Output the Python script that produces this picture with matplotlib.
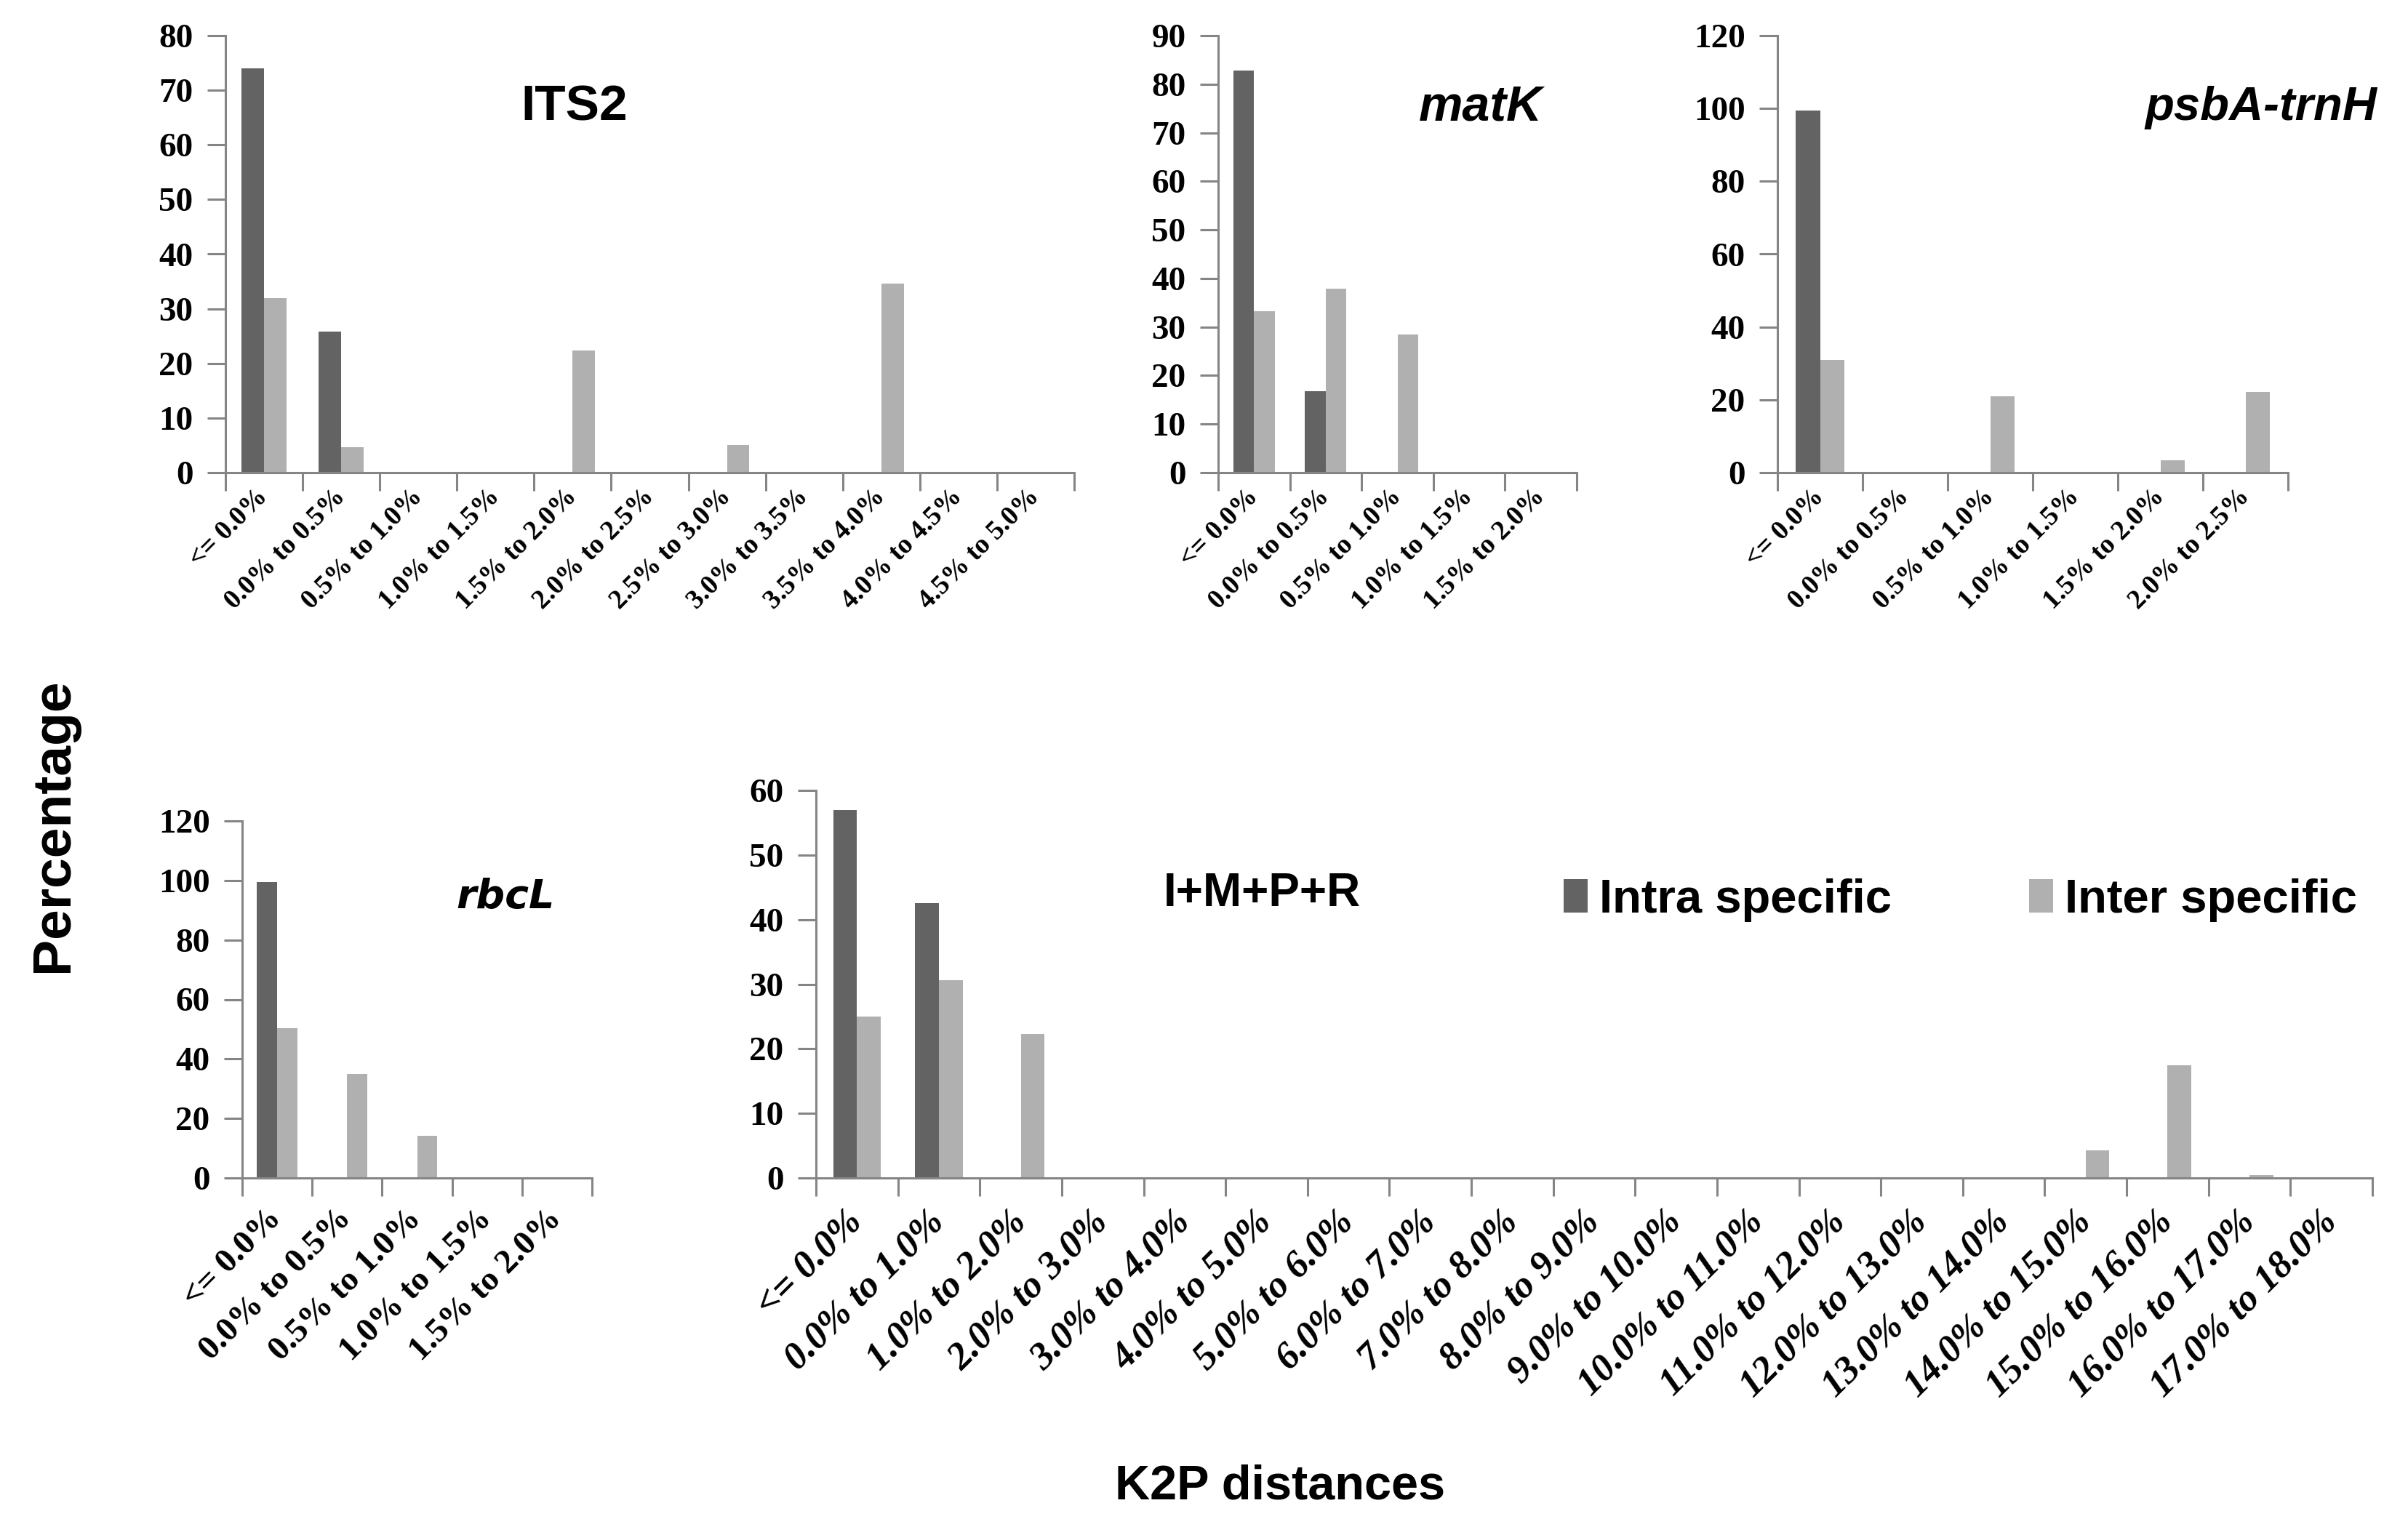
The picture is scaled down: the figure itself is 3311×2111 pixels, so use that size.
import numpy as np
import matplotlib
matplotlib.use('Agg')
import matplotlib.pyplot as plt

# ── DATA ──
its2_cats  = ['<= 0.0%', '0.0% to 0.5%', '0.5% to 1.0%', '1.0% to 1.5%', '1.5% to 2.0%',
              '2.0% to 2.5%', '2.5% to 3.0%', '3.0% to 3.5%', '3.5% to 4.0%',
              '4.0% to 4.5%', '4.5% to 5.0%']
its2_intra = [74, 25.8, 0, 0, 0, 0, 0, 0, 0, 0, 0]
its2_inter = [32, 4.7, 0, 0, 22.4, 0, 5.1, 0, 34.6, 0, 0]

matk_cats  = ['<= 0.0%', '0.0% to 0.5%', '0.5% to 1.0%', '1.0% to 1.5%', '1.5% to 2.0%']
matk_intra = [82.8, 16.7, 0, 0, 0]
matk_inter = [33.2, 37.9, 28.5, 0, 0]

psba_cats  = ['<= 0.0%', '0.0% to 0.5%', '0.5% to 1.0%', '1.0% to 1.5%', '1.5% to 2.0%',
              '2.0% to 2.5%']
psba_intra = [99.5, 0, 0, 0, 0, 0]
psba_inter = [31, 0, 20.9, 0, 3.4, 22.1]

rbcl_cats  = ['<= 0.0%', '0.0% to 0.5%', '0.5% to 1.0%', '1.0% to 1.5%', '1.5% to 2.0%']
rbcl_intra = [99.5, 0, 0, 0, 0]
rbcl_inter = [50.4, 34.9, 14.1, 0, 0]

all_cats  = ['<= 0.0%'] + ['%.1f%% to %.1f%%' % (i, i + 1) for i in range(18)]
all_intra = [57, 42.6, 0, 0, 0, 0, 0, 0, 0, 0, 0, 0, 0, 0, 0, 0, 0, 0, 0]
all_inter = [25, 30.6, 22.3, 0, 0, 0, 0, 0, 0, 0, 0, 0, 0, 0, 0, 4.3, 17.4, 0.45, 0]

# ── STYLE ──
W, H = 3311, 2111
INTRA_C = '#636363'
INTER_C = '#b0b0b0'
AXIS_C  = '#858585'
SERIF   = 'Liberation Serif'
SANS    = 'Liberation Sans'

fig = plt.figure(figsize=(W / 100, H / 100), dpi=100)


def px_axes(left, right, top, bottom):
    return fig.add_axes([left / W, 1 - bottom / H, (right - left) / W, (bottom - top) / H])


def panel(rect, cats, intra, inter, ymax, ystep, xsize=27, xpad=20, xstyle='normal'):
    ax = px_axes(*rect)
    n = len(cats)
    x = np.arange(n)
    w = 0.29
    ax.bar(x + 0.5 - w / 2, intra, w, color=INTRA_C, label='Intra specific', zorder=2)
    ax.bar(x + 0.5 + w / 2, inter, w, color=INTER_C, label='Inter specific', zorder=2)
    ax.set_xlim(0, n)
    ax.set_ylim(0, ymax)
    ax.set_yticks(np.arange(0, ymax + 1, ystep))
    # category boundaries carry the tick marks, centres carry the labels
    ax.set_xticks(np.arange(n + 1))
    ax.set_xticklabels([])
    ax.set_xticks(x + 0.5, minor=True)
    ax.set_xticklabels(cats, minor=True, rotation=45, ha='right', va='center',
                       rotation_mode='anchor', fontfamily=SERIF, fontweight='bold',
                       fontstyle=xstyle, fontsize=xsize)
    ax.tick_params(axis='x', which='minor', length=0, pad=xpad)
    ax.tick_params(axis='x', which='major', length=18, width=2.2, color=AXIS_C)
    ax.tick_params(axis='y', length=18, width=2.2, color=AXIS_C, pad=14, labelsize=34)
    for lab in ax.get_yticklabels():
        lab.set_fontfamily(SERIF)
        lab.set_fontweight('bold')
    for s in ['top', 'right']:
        ax.spines[s].set_visible(False)
    for s in ['left', 'bottom']:
        ax.spines[s].set_color(AXIS_C)
        ax.spines[s].set_linewidth(2.2)
    return ax


ax1 = panel((310, 1477, 49, 650), its2_cats, its2_intra, its2_inter, 80, 10)
ax2 = panel((1675, 2168, 49, 650), matk_cats, matk_intra, matk_inter, 90, 10)
ax3 = panel((2444, 3146, 49, 650), psba_cats, psba_intra, psba_inter, 120, 20)
ax4 = panel((333, 814, 1129, 1620), rbcl_cats, rbcl_intra, rbcl_inter, 120, 20,
            xsize=34, xpad=36)
ax5 = panel((1122, 3262, 1087, 1620), all_cats, all_intra, all_inter, 60, 10,
            xsize=38, xpad=38, xstyle='italic')


def fig_text(xp, yp, s, **kw):
    fig.text(xp / W, 1 - yp / H, s, **kw)


fig_text(790, 165, 'ITS2', ha='center', va='baseline', fontsize=50,
         fontfamily=SANS, fontweight='bold')
fig_text(2036, 165, 'matK', ha='center', va='baseline', fontsize=49,
         fontfamily=SANS, fontweight='bold', fontstyle='italic')
fig_text(3268, 165, 'psbA-trnH', ha='right', va='baseline', fontsize=47,
         fontfamily=SANS, fontweight='bold', fontstyle='italic')
fig_text(695, 1249, 'rbcL', ha='center', va='baseline', fontsize=40,
         fontfamily='DejaVu Sans', fontweight='bold', fontstyle='italic')
fig_text(1735, 1246, 'I+M+P+R', ha='center', va='baseline', fontsize=46,
         fontfamily=SANS, fontweight='bold')

# legend
fig.legend(*ax5.get_legend_handles_labels(), loc='center left',
           bbox_to_anchor=(2150 / W, 1 - 1238 / H), ncol=2, frameon=False,
           borderpad=0, borderaxespad=0, handlelength=0.5, handleheight=0.7,
           handletextpad=0.25, columnspacing=2.9,
           prop={'family': SANS, 'weight': 'bold', 'size': 47})

fig_text(74, 1135, 'Percentage', rotation=90, ha='center', va='center',
         fontsize=54, fontfamily=SANS, fontweight='bold')
fig_text(1760, 2061, 'K2P distances', ha='center', va='baseline',
         fontsize=48, fontfamily=SANS, fontweight='bold')

fig.savefig('out.png', dpi=100, facecolor='white')
